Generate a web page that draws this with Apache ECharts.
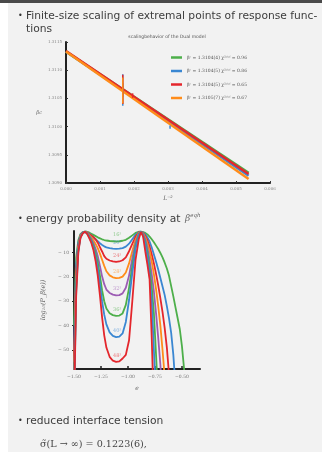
<!DOCTYPE html>
<html>
<head>
<meta charset="utf-8">
<script src="https://cdn.jsdelivr.net/npm/echarts@6/dist/echarts.min.js"></script>
<style>
html, body { margin: 0; padding: 0; background: #fff; }
#main { width: 322px; height: 452px; }
</style>
</head>
<body>
<div id="main"></div>
<script>
// --- scaling behaviour (top plot) ---
const fitNames = ['βᶜ = 1.3104(4) χ²ᵈᵒᶠ = 0.96', 'βᶜ = 1.3104(5) χ²ᵈᵒᶠ = 0.86', 'βᶜ = 1.3104(5) χ²ᵈᵒᶠ = 0.65', 'βᶜ = 1.3105(7) χ²ᵈᵒᶠ = 0.67'];
const fitX = [0, 0.00537];
const fitGreen = [1.31133, 1.30918];
const fitBlue = [1.31133, 1.30913];
const fitRed = [1.31134, 1.30916];
const fitOrange = [1.31133, 1.30907];
// [x, centre, half width]
const errGreen = [[0.00167, 1.31065, 0.00012]];
const errBlue = [[0.00167, 1.31065, 0.00028], [0.00306, 1.30999, 0.00003]];
const errRed = [[0.00167, 1.31066, 0.00026], [0.00196, 1.31055, 0.00004]];
const errOrange = [[0.00167, 1.31064, 0.00023]];

// --- energy histograms (bottom plot) ---
const eGrid = [-1.50, -1.48, -1.46, -1.44, -1.42, -1.40, -1.38, -1.36, -1.34, -1.32, -1.30, -1.28, -1.26, -1.24, -1.22, -1.20,
  -1.17, -1.14, -1.11, -1.08, -1.05, -1.02, -0.99, -0.96, -0.93, -0.90, -0.88, -0.86, -0.84, -0.82, -0.80, -0.78,
  -0.76, -0.74, -0.72, -0.70, -0.68, -0.66, -0.64, -0.62, -0.60, -0.58, -0.56, -0.54, -0.52, -0.50, -0.48, -0.46];
const sizeLabels = ['16³', '20³', '24³', '28³', '32³', '36³', '40³', '48³'];
const logP16 = [-40, -12, -5, -2.5, -1.7, -1.5, -1.5, -1.8, -2.3, -2.8, -3.3, -3.8, -4.2, -4.6, -4.9, -5.1,
  -5.3, -5.4, -5.5, -5.4, -5.2, -4.8, -4.0, -3.0, -2.0, -1.5, -1.5, -1.7, -2.0, -2.6, -3.5, -4.6,
  -5.8, -7.2, -8.6, -10.2, -12.0, -14.2, -16.6, -19.6, -23.8, -28.0, -32.5, -37.0, -41.5, -48.5, -58, -80];
const logP20 = [-50, -15, -6, -2.8, -1.8, -1.5, -1.6, -2.2, -3.0, -3.8, -4.6, -5.4, -6.2, -6.9, -7.5, -7.9,
  -8.2, -8.4, -8.5, -8.4, -8.2, -7.6, -6.4, -4.6, -2.8, -1.7, -1.5, -1.8, -2.6, -3.8, -5.5, -8.0,
  -10.8, -13.8, -17.0, -20.5, -24.0, -27.5, -32.0, -37.0, -43.0, -52.0, -65, -80, -80, -80, -80, -80];
const logP24 = [-55, -18, -7, -3, -1.9, -1.5, -1.7, -2.4, -3.0, -3.7, -4.6, -6.0, -7.8, -9.6, -11.5, -12.6,
  -13.3, -13.7, -13.9, -13.7, -13.2, -12.0, -9.5, -6.5, -3.6, -1.8, -1.5, -2.0, -3.2, -5.0, -7.5, -10.8,
  -14.5, -18.8, -23.5, -28.8, -34.5, -41, -49, -60, -80, -80, -80, -80, -80, -80, -80, -80];
const logP28 = [-60, -20, -8, -3.2, -2.0, -1.5, -1.8, -2.8, -3.8, -5.0, -6.5, -8.2, -10.5, -13.0, -15.5, -17.7,
  -19.4, -20.2, -20.5, -20.4, -19.9, -18.2, -14.5, -9.5, -4.8, -2.0, -1.5, -2.2, -3.8, -6.2, -9.5, -13.8,
  -19, -25, -32, -40, -50, -61, -80, -80, -80, -80, -80, -80, -80, -80, -80, -80];
const logP32 = [-65, -22, -8.5, -3.4, -2.0, -1.5, -1.9, -3.0, -4.4, -6.2, -8.5, -11.5, -15.5, -19.8, -23.0, -25.2,
  -26.6, -27.3, -27.6, -27.5, -26.8, -24.5, -19.5, -12.5, -6.0, -2.3, -1.5, -2.5, -4.5, -8, -13, -19,
  -26, -35, -45, -56, -70, -80, -80, -80, -80, -80, -80, -80, -80, -80, -80, -80];
const logP36 = [-70, -24, -9, -3.6, -2.1, -1.5, -2.0, -3.3, -5.0, -7.2, -10.2, -14.0, -19.5, -25.5, -30.0, -33.0,
  -34.9, -35.7, -36.0, -35.9, -35.0, -31.5, -24.5, -15.5, -7.2, -2.5, -1.5, -2.7, -5.5, -10, -16, -24,
  -35, -52, -70, -80, -80, -80, -80, -80, -80, -80, -80, -80, -80, -80, -80, -80];
const logP40 = [-72, -26, -9.5, -3.8, -2.2, -1.5, -2.1, -3.6, -5.6, -8.2, -11.8, -16.5, -23, -30, -35.5, -39.5,
  -42.8, -44.2, -44.7, -44.5, -43.2, -38.5, -29.5, -18.5, -8.5, -2.8, -1.5, -2.9, -6.5, -12, -19, -30,
  -50, -70, -80, -80, -80, -80, -80, -80, -80, -80, -80, -80, -80, -80, -80, -80];
const logP48 = [-75, -28, -10, -4.0, -2.3, -1.5, -2.3, -4.0, -6.0, -9.0, -13.5, -19.5, -27.5, -36.5, -44, -49,
  -52.8, -54.4, -54.9, -54.7, -53.5, -52, -46, -30, -13, -4.5, -1.6, -3.5, -9.5, -15, -21, -45,
  -75, -80, -80, -80, -80, -80, -80, -80, -80, -80, -80, -80, -80, -80, -80, -80];
const histograms = [logP16, logP20, logP24, logP28, logP32, logP36, logP40, logP48];

const GREEN = '#4daf4a', BLUE = '#3a87d2', RED = '#e4262c', ORANGE = '#ff8c1a', PURPLE = '#9c5cb4';
const fitColors = [GREEN, BLUE, RED, ORANGE];
const histColors = [GREEN, BLUE, RED, ORANGE, PURPLE, GREEN, BLUE, RED];

const chart = echarts.init(document.getElementById('main'));

function errSeries(data, color) {
  return {
    type: 'custom', xAxisIndex: 0, yAxisIndex: 0, z: 5,
    data: data,
    encode: { x: 0, y: 1 },
    renderItem: function (params, api) {
      const a = api.coord([api.value(0), api.value(1) + api.value(2)]);
      const b = api.coord([api.value(0), api.value(1) - api.value(2)]);
      return { type: 'line', shape: { x1: a[0], y1: a[1], x2: b[0], y2: b[1] }, style: { stroke: color, lineWidth: 1.5 } };
    }
  };
}

const fits = [fitGreen, fitBlue, fitRed, fitOrange];
const series = [];
fits.forEach(function (f, i) {
  series.push({
    name: fitNames[i], type: 'line', xAxisIndex: 0, yAxisIndex: 0,
    data: fitX.map(function (x, k) { return [x, f[k]]; }),
    symbol: 'none', lineStyle: { color: fitColors[i], width: 2.5 }, itemStyle: { color: fitColors[i] }
  });
});
[errGreen, errBlue, errRed, errOrange].forEach(function (d, i) { series.push(errSeries(d, fitColors[i])); });

histograms.forEach(function (h, i) {
  let floor = 0;
  eGrid.forEach(function (e, k) { if (e >= -1.2 && e <= -1.0) floor = Math.min(floor, h[k]); });
  series.push({
    type: 'line', xAxisIndex: 1, yAxisIndex: 1,
    data: eGrid.map(function (e, k) { return [e, h[k]]; }),
    symbol: 'none', lineStyle: { color: histColors[i], width: 1.8 }, clip: true,
    markPoint: {
      symbol: 'circle', symbolSize: 0, silent: true,
      label: { show: true, formatter: sizeLabels[i], color: histColors[i], opacity: 0.6, fontSize: 5, fontFamily: 'DejaVu Serif' },
      data: [{ coord: [-1.10, floor + 2.6] }]
    }
  });
});

const tinyLabel = { color: '#888', fontSize: 4, fontFamily: 'DejaVu Serif', margin: 4 };
const axisDark = { lineStyle: { color: '#222', width: 2 } };
const bodyText = { fontSize: 10.7, fontFamily: 'DejaVu Sans', fill: '#3c3c3c', verticalAlign: 'middle' };
const bullet = { text: '•', fontSize: 8, fontFamily: 'DejaVu Sans', fill: '#333', verticalAlign: 'middle' };

chart.setOption({
  animation: false,
  graphic: [
    { type: 'rect', shape: { x: 8, y: 3, width: 314, height: 449 }, style: { fill: '#f2f2f2' }, z: -10 },
    { type: 'rect', shape: { x: 0, y: 0, width: 322, height: 3 }, style: { fill: '#4a4a4a' }, z: -9 },
    { type: 'text', x: 18, y: 16, style: bullet },
    { type: 'text', x: 26, y: 16, style: Object.assign({ text: 'Finite-size scaling of extremal points of response func-' }, bodyText) },
    { type: 'text', x: 26, y: 29.5, style: Object.assign({ text: 'tions' }, bodyText) },
    { type: 'text', x: 167, y: 37, style: { text: 'scalingbehavior of the Dual model', fontSize: 4.5, fontFamily: 'DejaVu Sans', fill: '#555', align: 'center', verticalAlign: 'middle' } },
    { type: 'text', x: 18, y: 219, style: bullet },
    { type: 'text', x: 26, y: 219, style: Object.assign({ text: 'energy probability density at' }, bodyText) },
    { type: 'text', x: 185, y: 219, style: { text: '{b|β}{s|eqh}', fill: '#3a3a3a', verticalAlign: 'middle',
      rich: { b: { fontSize: 9, fontFamily: 'DejaVu Serif', fontStyle: 'italic', fill: '#666' }, s: { fontSize: 5.5, fontFamily: 'DejaVu Serif', fontStyle: 'italic', fill: '#666', verticalAlign: 'top', padding: [0, 0, 6, 0] } } } },
    { type: 'text', x: 18, y: 421, style: bullet },
    { type: 'text', x: 26, y: 421, style: Object.assign({ text: 'reduced interface tension' }, bodyText) },
    { type: 'text', x: 40, y: 444, style: { text: 'σ̃(L → ∞) = 0.1223(6),', fontSize: 9.6, fontFamily: 'DejaVu Serif', fill: '#444', verticalAlign: 'middle' } }
  ],
  legend: {
    data: fitNames, left: 166, top: 50, orient: 'vertical', icon: 'rect',
    itemWidth: 11, itemHeight: 2.5, itemGap: 8.5,
    textStyle: { fontSize: 4.5, color: '#555', fontFamily: 'DejaVu Serif' }
  },
  grid: [
    { left: 66, top: 42, width: 204, height: 141 },
    { left: 74, top: 231, width: 126, height: 138 }
  ],
  xAxis: [
    {
      gridIndex: 0, type: 'value', min: 0, max: 0.006, interval: 0.001,
      name: 'L⁻²', nameLocation: 'middle', nameGap: 12, nameTextStyle: { fontSize: 6, color: '#666', fontFamily: 'DejaVu Serif', fontStyle: 'italic' },
      axisLine: axisDark, axisTick: { inside: true, length: 2, lineStyle: { color: '#333' } },
      axisLabel: Object.assign({ formatter: function (v) { return v.toFixed(3); } }, tinyLabel),
      splitLine: { show: false }
    },
    {
      gridIndex: 1, type: 'value', min: -1.5, max: -0.333,
      name: 'e', nameLocation: 'middle', nameGap: 16, nameTextStyle: { fontSize: 6, color: '#666', fontFamily: 'DejaVu Serif', fontStyle: 'italic' },
      axisLine: axisDark,
      axisTick: { inside: true, length: 3, lineStyle: { color: '#222', width: 1.5 }, customValues: [-1.5, -1.25, -1.0, -0.75, -0.5] },
      axisLabel: { customValues: [-1.5, -1.25, -1.0, -0.75, -0.5], formatter: function (v) { return '−' + Math.abs(v).toFixed(2); }, color: '#777', fontSize: 4.5, fontFamily: 'DejaVu Serif', margin: 5 },
      splitLine: { show: false }
    }
  ],
  yAxis: [
    {
      gridIndex: 0, type: 'value', min: 1.309, max: 1.3115, interval: 0.0005,
      name: 'βc', nameLocation: 'middle', nameGap: 24, nameRotate: 0, nameTextStyle: { fontSize: 5, color: '#666', fontFamily: 'DejaVu Serif', fontStyle: 'italic' },
      axisLine: axisDark, axisTick: { inside: true, length: 2, lineStyle: { color: '#333' } },
      axisLabel: Object.assign({ formatter: function (v) { return v.toFixed(4); } }, tinyLabel),
      splitLine: { show: false }
    },
    {
      gridIndex: 1, type: 'value', min: -57.8, max: -1.2,
      name: 'log₁₀(P_β(e))', nameLocation: 'middle', nameGap: 27, nameRotate: 90,
      nameTextStyle: { fontSize: 6.5, color: '#666', fontFamily: 'DejaVu Serif', fontStyle: 'italic' },
      axisLine: axisDark,
      axisTick: { inside: false, length: 2, lineStyle: { color: '#222' }, customValues: [-50, -40, -30, -20, -10] },
      axisLabel: { customValues: [-50, -40, -30, -20, -10], formatter: function (v) { return '− ' + Math.abs(v); }, color: '#777', fontSize: 4.5, fontFamily: 'DejaVu Serif', margin: 5 },
      splitLine: { show: false }
    }
  ],
  series: series
});
</script>
</body>
</html>
